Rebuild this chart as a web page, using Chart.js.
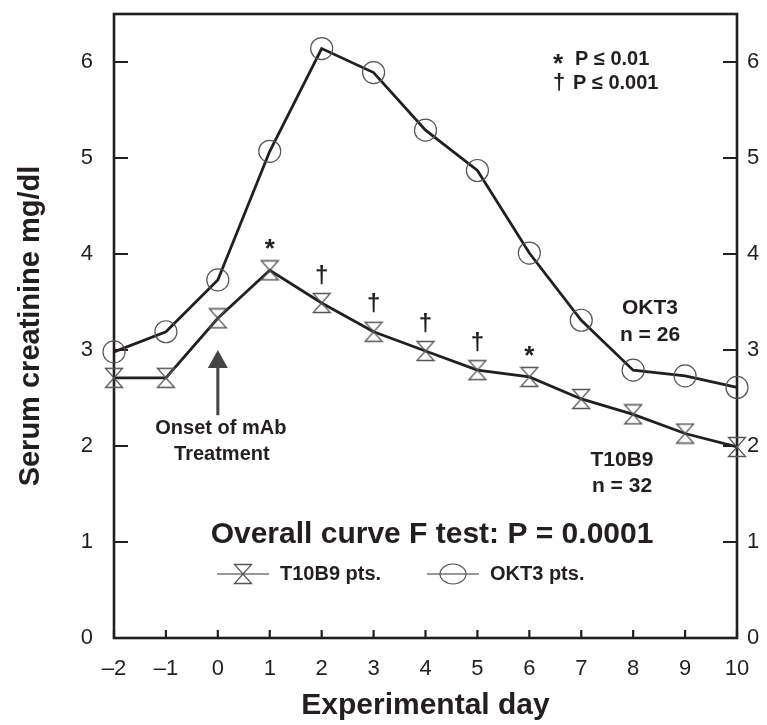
<!DOCTYPE html>
<html>
<head>
<meta charset="utf-8">
<script src="https://cdn.jsdelivr.net/npm/chart.js@4"></script>
<style>
  body { margin: 0; background: #fff; }
</style>
</head>
<body>
<canvas id="chart" width="767" height="725"></canvas>
<script>
// values
const days = [-2, -1, 0, 1, 2, 3, 4, 5, 6, 7, 8, 9, 10];
const t10b9 = [2.71, 2.71, 3.33, 3.83, 3.49, 3.19, 2.99, 2.79, 2.72, 2.49, 2.33, 2.13, 1.99];
const okt3 = [2.98, 3.19, 3.73, 5.07, 6.14, 5.89, 5.29, 4.87, 4.01, 3.31, 2.79, 2.73, 2.61];
const sigDays = [1, 2, 3, 4, 5, 6];
const sigMarks = ['*', '†', '†', '†', '†', '*'];
const yTicks = [0, 1, 2, 3, 4, 5, 6];

const ink = '#231f20';
const FONT = '"Liberation Sans", Arial, Helvetica, sans-serif';

function hourglass() {
  var c = document.createElement('canvas');
  c.width = 20; c.height = 22;
  var g = c.getContext('2d');
  g.strokeStyle = '#555';
  g.lineWidth = 1.3;
  g.beginPath();
  g.moveTo(1.5, 1.5); g.lineTo(18.5, 1.5); g.lineTo(1.5, 20.5); g.lineTo(18.5, 20.5);
  g.closePath();
  g.stroke();
  return c;
}
var hg = hourglass();

function pts(arr) {
  return days.map(function (d, i) { return { x: d, y: arr[i] }; });
}

function mark(ctx, s, x, y, size) {
  ctx.font = 'bold ' + size + 'px ' + FONT;
  ctx.textAlign = 'center';
  ctx.textBaseline = 'middle';
  ctx.fillText(s, x, y);
}

var notes = {
  id: 'notes',
  beforeDatasetsDraw: function (chart) {
    var ctx = chart.ctx, a = chart.chartArea;
    var xs = chart.scales.x, ys = chart.scales.y;
    ctx.save();
    ctx.strokeStyle = ink;
    ctx.lineWidth = 2.6;
    ctx.strokeRect(a.left, a.top, a.right - a.left, a.bottom - a.top);
    ctx.lineWidth = 2.2;
    ctx.beginPath();
    days.forEach(function (d) {
      var px = xs.getPixelForValue(d);
      ctx.moveTo(px, a.bottom); ctx.lineTo(px, a.bottom - 8);
    });
    yTicks.forEach(function (v) {
      var py = ys.getPixelForValue(v);
      ctx.moveTo(a.left, py); ctx.lineTo(a.left + 14, py);
      ctx.moveTo(a.right, py); ctx.lineTo(a.right - 14, py);
    });
    ctx.stroke();
    ctx.restore();
  },
  afterDatasetsDraw: function (chart) {
    var ctx = chart.ctx, a = chart.chartArea;
    var xs = chart.scales.x, ys = chart.scales.y;
    ctx.save();
    ctx.fillStyle = ink;

    // significance marks above T10B9 points
    sigDays.forEach(function (d, i) {
      var px = xs.getPixelForValue(d);
      var py = ys.getPixelForValue(t10b9[days.indexOf(d)]);
      if (sigMarks[i] === '*') mark(ctx, '*', px, py - 20, 26);
      else mark(ctx, '†', px, py - 27, 24);
    });

    // key for the marks
    mark(ctx, '*', 558, 65, 26);
    mark(ctx, '†', 559, 83, 22);
    ctx.font = 'bold 20px ' + FONT;
    ctx.textAlign = 'left';
    ctx.fillText('P ≤ 0.01', 575, 59);
    ctx.fillText('P ≤ 0.001', 573, 83);

    // group labels
    ctx.font = 'bold 21px ' + FONT;
    ctx.textAlign = 'center';
    ctx.fillText('OKT3', 650, 308);
    ctx.fillText('n = 26', 650, 335);
    ctx.fillText('T10B9', 622, 460);
    ctx.fillText('n = 32', 622, 486);

    // onset arrow
    var ax = xs.getPixelForValue(0);
    var tip = ys.getPixelForValue(3.0);
    var tail = ys.getPixelForValue(2.32);
    ctx.strokeStyle = '#444';
    ctx.fillStyle = '#444';
    ctx.lineWidth = 3;
    ctx.beginPath();
    ctx.moveTo(ax, tail); ctx.lineTo(ax, tip + 15);
    ctx.stroke();
    ctx.beginPath();
    ctx.moveTo(ax, tip); ctx.lineTo(ax - 10, tip + 18); ctx.lineTo(ax + 10, tip + 18);
    ctx.closePath();
    ctx.fill();
    ctx.fillStyle = ink;
    ctx.font = 'bold 20px ' + FONT;
    ctx.fillText('Onset of mAb', ax + 3, 428);
    ctx.fillText('Treatment', ax + 4, 454);

    // overall test
    ctx.font = 'bold 30px ' + FONT;
    ctx.fillText('Overall curve F test: P = 0.0001', 432, 535);

    // legend
    var ly = 574;
    ctx.strokeStyle = '#333';
    ctx.lineWidth = 1;
    ctx.beginPath();
    ctx.moveTo(217, ly); ctx.lineTo(269, ly);
    ctx.moveTo(427, ly); ctx.lineTo(479, ly);
    ctx.stroke();
    ctx.drawImage(hg, 233, ly - 11);
    ctx.strokeStyle = '#555';
    ctx.lineWidth = 1.2;
    ctx.beginPath();
    ctx.ellipse(453, ly, 13, 10, 0, 0, Math.PI * 2);
    ctx.stroke();
    ctx.font = 'bold 20px ' + FONT;
    ctx.textAlign = 'left';
    ctx.fillText('T10B9 pts.', 280, ly);
    ctx.fillText('OKT3 pts.', 490, ly);
    ctx.restore();
  }
};

function onlyInts(scale) {
  scale.ticks = scale.ticks.filter(function (t) { return Number.isInteger(t.value); });
}

function fitY(w) {
  return function (s) {
    s.width = w;
    s.paddingTop = 0;
    s.paddingBottom = 0;
  };
}

var chart = new Chart(document.getElementById('chart'), {
  type: 'line',
  data: {
    datasets: [
      {
        label: 'T10B9 pts.',
        data: pts(t10b9),
        borderColor: ink,
        borderWidth: 2.8,
        pointStyle: hg,
        pointRadius: 10,
        clip: false,
        tension: 0
      },
      {
        label: 'OKT3 pts.',
        data: pts(okt3),
        borderColor: ink,
        borderWidth: 2.8,
        pointStyle: 'circle',
        pointRadius: 11,
        pointBorderColor: '#555',
        pointBorderWidth: 1.2,
        pointBackgroundColor: 'rgba(0,0,0,0)',
        clip: false,
        tension: 0
      }
    ]
  },
  options: {
    responsive: false,
    animation: false,
    layout: { padding: { top: 14, right: 0, left: 0, bottom: 0 } },
    plugins: {
      legend: { display: false },
      tooltip: { enabled: false }
    },
    scales: {
      x: {
        type: 'linear',
        min: -2,
        max: 10,
        grid: { display: false, drawTicks: false },
        border: { display: false },
        ticks: {
          stepSize: 1,
          autoSkip: false,
          maxRotation: 0,
          padding: 18,
          color: ink,
          font: { family: FONT, size: 22 },
          callback: function (v) { return v < 0 ? '–' + Math.abs(v) : String(v); }
        },
        title: {
          display: true,
          text: 'Experimental day',
          color: ink,
          font: { family: FONT, size: 30, weight: 'bold' },
          padding: { top: 0, bottom: 1 }
        },
        afterFit: function (s) { s.height = 87; s.paddingLeft = 0; s.paddingRight = 0; }
      },
      y: {
        position: 'left',
        min: 0,
        max: 6.5,
        grid: { display: false, drawTicks: false },
        border: { display: false },
        afterBuildTicks: onlyInts,
        ticks: {
          stepSize: 1,
          padding: 21,
          color: ink,
          font: { family: FONT, size: 22 }
        },
        title: {
          display: true,
          text: 'Serum creatinine mg/dl',
          color: ink,
          font: { family: FONT, size: 29, weight: 'bold' },
          padding: { top: 14, bottom: 0 }
        },
        afterFit: fitY(114)
      },
      y2: {
        position: 'right',
        min: 0,
        max: 6.5,
        grid: { display: false, drawTicks: false },
        border: { display: false },
        afterBuildTicks: onlyInts,
        ticks: {
          stepSize: 1,
          padding: 10,
          color: ink,
          font: { family: FONT, size: 22 }
        },
        afterFit: fitY(30)
      }
    }
  },
  plugins: [notes]
});
</script>
</body>
</html>
